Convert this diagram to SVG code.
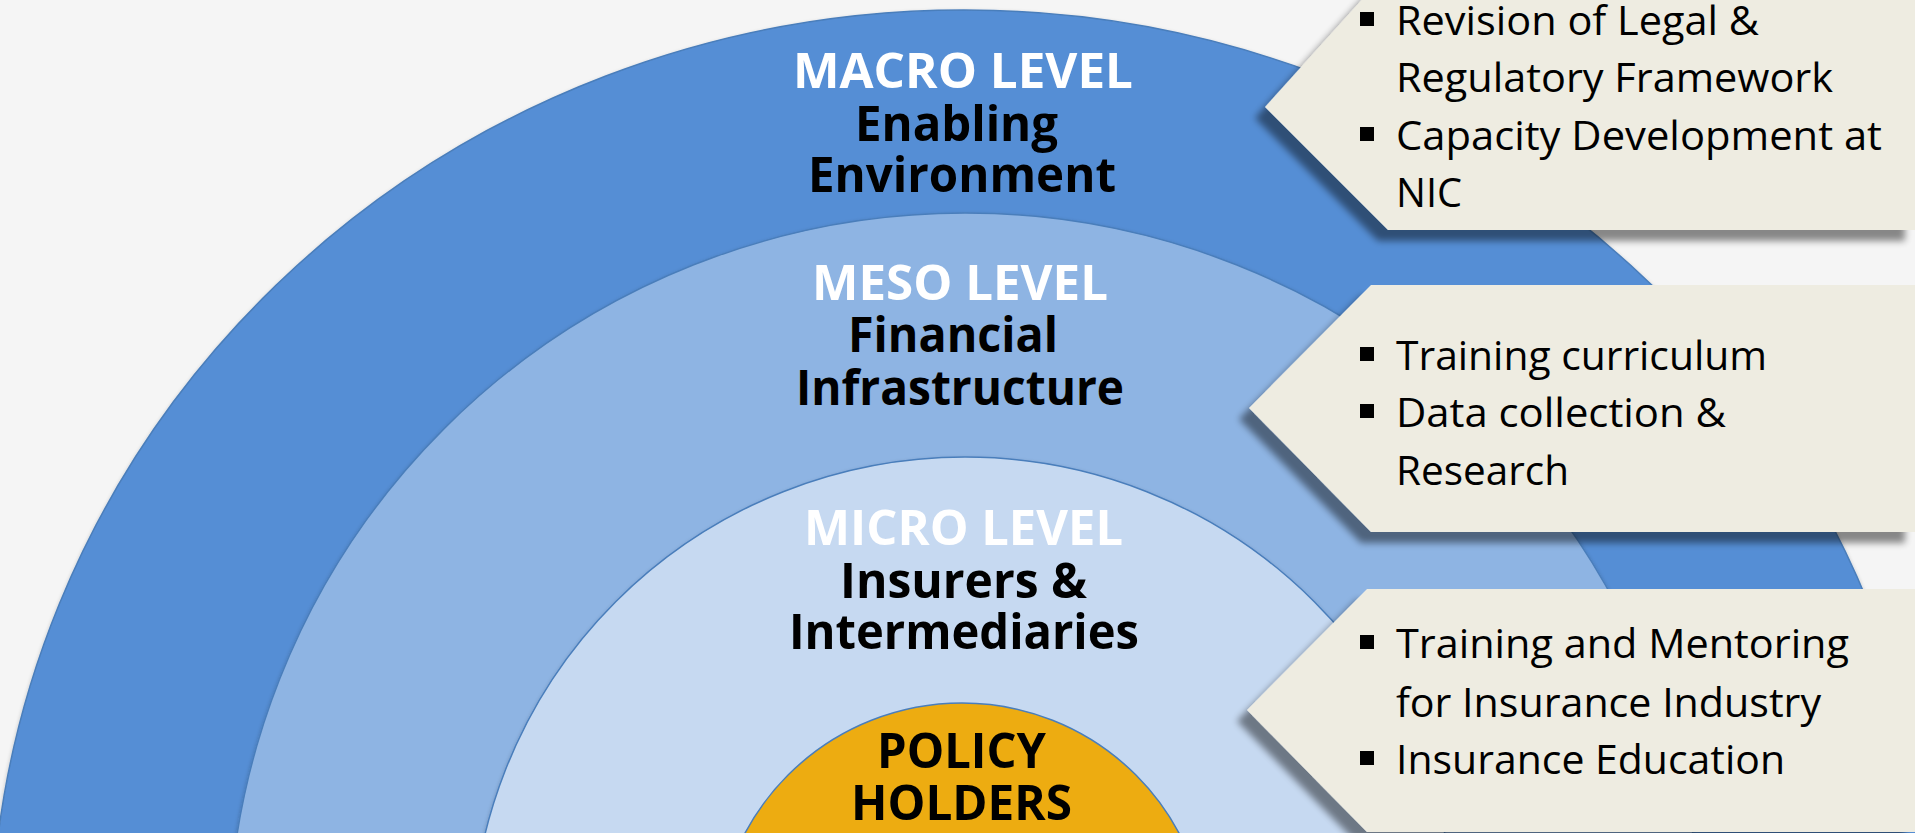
<svg xmlns="http://www.w3.org/2000/svg" width="1915" height="833" viewBox="0 0 1915 833">
  <defs>
    <filter id="boxShadow" x="-10%" y="-20%" width="130%" height="150%">
      <feGaussianBlur in="SourceAlpha" stdDeviation="3.5"/>
      <feOffset dx="-10" dy="11" result="b"/>
      <feComponentTransfer><feFuncA type="linear" slope="0.45"/></feComponentTransfer>
      <feMerge><feMergeNode/><feMergeNode in="SourceGraphic"/></feMerge>
    </filter>
    <filter id="ringShadow" x="-5%" y="-5%" width="110%" height="110%">
      <feGaussianBlur in="SourceAlpha" stdDeviation="2"/>
      <feOffset dx="0" dy="2"/>
      <feComponentTransfer><feFuncA type="linear" slope="0.25"/></feComponentTransfer>
      <feMerge><feMergeNode/><feMergeNode in="SourceGraphic"/></feMerge>
    </filter>
  </defs>
  <style>
    .ring { stroke: #4A7EBB; stroke-width: 1.5; }
    .lvl { font-family: "Open Sans", "Liberation Sans", sans-serif; font-weight: bold; font-size: 49px; }
    .white { fill: #FFFFFF; }
    .dark { fill: #000000; }
    .box { fill: #EEECE1; }
    .bt { font-family: "Open Sans", "Liberation Sans", sans-serif; font-size: 40px; fill: #000000; }
    .bul { fill: #000000; }
  </style>
  <rect x="0" y="0" width="1915" height="833" fill="#F5F5F5"/>

  <g id="macro-level">
    <ellipse class="ring" cx="964" cy="950" rx="973" ry="940" fill="#558ED5" filter="url(#ringShadow)"/>
    <text class="lvl white" x="793" y="88" textLength="340" lengthAdjust="spacingAndGlyphs">MACRO LEVEL</text>
    <text class="lvl dark" x="855" y="141" textLength="203" lengthAdjust="spacingAndGlyphs">Enabling</text>
    <text class="lvl dark" x="808" y="192" textLength="308" lengthAdjust="spacingAndGlyphs">Environment</text>
  </g>

  <g id="meso-level">
    <circle class="ring" cx="965" cy="950" r="737" fill="#8EB4E3" filter="url(#ringShadow)"/>
    <text class="lvl white" x="812" y="300" textLength="296" lengthAdjust="spacingAndGlyphs">MESO LEVEL</text>
    <text class="lvl dark" x="848" y="352" textLength="210" lengthAdjust="spacingAndGlyphs">Financial</text>
    <text class="lvl dark" x="796" y="405" textLength="328" lengthAdjust="spacingAndGlyphs">Infrastructure</text>
  </g>

  <g id="micro-level">
    <circle class="ring" cx="965" cy="951" r="494" fill="#C6D9F1" filter="url(#ringShadow)"/>
    <text class="lvl white" x="804" y="545" textLength="319" lengthAdjust="spacingAndGlyphs">MICRO LEVEL</text>
    <text class="lvl dark" x="840" y="598" textLength="247" lengthAdjust="spacingAndGlyphs">Insurers &amp;</text>
    <text class="lvl dark" x="789" y="649" textLength="350" lengthAdjust="spacingAndGlyphs">Intermediaries</text>
  </g>

  <g id="policy-holders">
    <circle class="ring" cx="962" cy="949" r="246" fill="#EDAC11"/>
    <text class="lvl dark" x="877" y="768" textLength="169" lengthAdjust="spacingAndGlyphs">POLICY</text>
    <text class="lvl dark" x="851" y="820" textLength="221" lengthAdjust="spacingAndGlyphs">HOLDERS</text>
  </g>

  <g id="connectors"></g>

  <g id="macro-actions">
    <path class="box" d="M1265,107 L1376,-16 L1915,-16 L1915,230 L1388,230 Z" filter="url(#boxShadow)"/>
    <rect class="bul" x="1360" y="12" width="14" height="14"/>
    <text class="bt" x="1396" y="35" textLength="363" lengthAdjust="spacingAndGlyphs">Revision of Legal &amp;</text>
    <text class="bt" x="1396" y="92" textLength="437" lengthAdjust="spacingAndGlyphs">Regulatory Framework</text>
    <rect class="bul" x="1360" y="127" width="14" height="14"/>
    <text class="bt" x="1396" y="150" textLength="486" lengthAdjust="spacingAndGlyphs">Capacity Development at</text>
    <text class="bt" x="1396" y="207" textLength="66" lengthAdjust="spacingAndGlyphs">NIC</text>
  </g>

  <g id="meso-actions">
    <path class="box" d="M1249,408 L1371,285 L1915,285 L1915,532 L1371,532 Z" filter="url(#boxShadow)"/>
    <rect class="bul" x="1360" y="347" width="14" height="14"/>
    <text class="bt" x="1396" y="370" textLength="371" lengthAdjust="spacingAndGlyphs">Training curriculum</text>
    <rect class="bul" x="1360" y="404" width="14" height="14"/>
    <text class="bt" x="1396" y="427" textLength="330" lengthAdjust="spacingAndGlyphs">Data collection &amp;</text>
    <text class="bt" x="1396" y="485" textLength="173" lengthAdjust="spacingAndGlyphs">Research</text>
  </g>

  <g id="micro-actions">
    <path class="box" d="M1247,710 L1367,589 L1915,589 L1915,832 L1367,832 Z" filter="url(#boxShadow)"/>
    <rect class="bul" x="1360" y="635" width="14" height="14"/>
    <text class="bt" x="1396" y="658" textLength="453" lengthAdjust="spacingAndGlyphs">Training and Mentoring</text>
    <text class="bt" x="1396" y="717" textLength="425" lengthAdjust="spacingAndGlyphs">for Insurance Industry</text>
    <rect class="bul" x="1360" y="751" width="14" height="14"/>
    <text class="bt" x="1396" y="774" textLength="389" lengthAdjust="spacingAndGlyphs">Insurance Education</text>
  </g>
</svg>
